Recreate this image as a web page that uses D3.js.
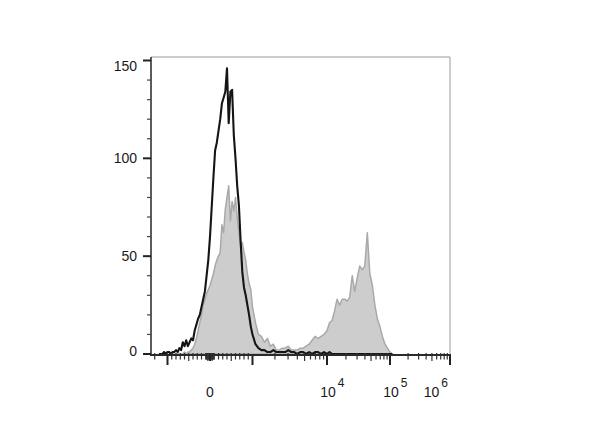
<!DOCTYPE html>
<html>
<head>
<meta charset="utf-8">
<script src="https://cdn.jsdelivr.net/npm/d3@7"></script>
<style>
  html, body { margin: 0; padding: 0; background: #fff; }
  svg { display: block; font-family: 'Liberation Sans', Arial, sans-serif; }
</style>
</head>
<body>
<div id="chart"></div>
<script>
// histogram bins are uniform in biexponential display units
const channelStart = -1.2;
const channelStep = 0.04;

const isotypeCounts = [
  0, 0, 0, 1, 0, 1, 1, 0, 1,
  1, 2, 1, 3, 2, 6, 4, 7, 4, 6,
  8, 7, 12, 15, 18, 20, 24, 28, 32, 40,
  48, 60, 75, 90, 104, 108, 114, 120, 128, 131,
  134, 146, 118, 134, 135, 112, 100, 86, 76, 58,
  42, 34, 30, 25, 20, 14, 10, 5, 3, 2,
  2, 1, 1, 2, 1, 1, 1, 1, 2, 1,
  1, 0, 1, 1, 0, 1, 0, 1, 1, 0,
  1, 0, 1, 0, 0, 0, 0, 0, 0, 0,
  0, 0, 0, 0, 0, 0, 0, 0, 0, 0,
  0, 0, 0, 0, 0, 0, 0, 0
];

const stainedCounts = [
  0, 0, 0, 0, 0, 0, 0, 0, 0,
  0, 0, 0, 0, 0, 0, 1, 0, 1, 1,
  2, 3, 5, 8, 12, 16, 20, 25, 28, 31,
  33, 35, 38, 41, 45, 48, 50, 52, 66, 62,
  74, 80, 86, 68, 78, 73, 80, 70, 62, 55,
  57, 52, 48, 41, 36, 33, 24, 16, 10, 9,
  6, 8, 4, 5, 2, 2, 3, 3, 4, 2,
  2, 2, 3, 3, 4, 5, 7, 9, 8, 9,
  10, 12, 16, 17, 22, 28, 25, 28, 28, 27,
  29, 40, 32, 39, 45, 43, 45, 62, 41, 35,
  25, 18, 14, 9, 5, 3, 1, 0
];

const yTickValues = [0, 50, 100, 150];
const xMajorTicks = [-1000, 1000, 1e4, 1e5, 1e6];
const xLabelValues = [0, 1e4, 1e5, 1e6];
const xLabelBases = ['0', '10', '10', '10'];
const xLabelExps = ['', '4', '5', '6'];

const WIDTH = 600;
const HEIGHT = 448;
const LEFT = 151;
const RIGHT = 450;
const TOP = 57;
const BOTTOM = 355;

// linear around zero, log10 above 1000
const biex = (v) =>
  Math.abs(v) <= 1000
    ? v / 1000
    : Math.sign(v) * (1 + Math.log10(Math.abs(v) / 1000));

const xScale = d3
  .scaleLinear()
  .domain([-1, 0, 1, 2, 3, 4])
  .range([167.5, 210, 252.5, 327, 390, 450]);
const x = (v) => xScale(biex(v));

const yScale = d3.scaleLinear().domain([0, 150]).range([354, 60.5]);

const toPoints = (counts) =>
  counts.map((count, i) => ({ f: channelStart + i * channelStep, count }));

const svg = d3
  .select('#chart')
  .append('svg')
  .attr('width', WIDTH)
  .attr('height', HEIGHT);

svg
  .append('clipPath')
  .attr('id', 'plot-clip')
  .append('rect')
  .attr('x', LEFT)
  .attr('y', TOP)
  .attr('width', RIGHT - LEFT)
  .attr('height', BOTTOM - TOP);

const plot = svg.append('g').attr('clip-path', 'url(#plot-clip)');

const area = d3
  .area()
  .x((d) => xScale(d.f))
  .y0(yScale(0))
  .y1((d) => yScale(d.count));

const line = d3
  .line()
  .x((d) => xScale(d.f))
  .y((d) => yScale(d.count));

plot
  .append('path')
  .datum(toPoints(stainedCounts))
  .attr('d', area)
  .attr('fill', '#cdcdcd')
  .attr('stroke', '#a9a9a9')
  .attr('stroke-width', 1.5)
  .attr('stroke-linejoin', 'round');

plot
  .append('path')
  .datum(toPoints(isotypeCounts))
  .attr('d', line)
  .attr('fill', 'none')
  .attr('stroke', '#151515')
  .attr('stroke-width', 2.1)
  .attr('stroke-linejoin', 'round');

// frame
svg
  .append('path')
  .attr('d', `M${LEFT},${TOP}H${RIGHT}V${BOTTOM}`)
  .attr('fill', 'none')
  .attr('stroke', '#9a9a9a')
  .attr('stroke-width', 1);

// y axis
const yAxis = svg.append('g');
yAxis
  .append('line')
  .attr('x1', LEFT)
  .attr('x2', LEFT)
  .attr('y1', TOP)
  .attr('y2', BOTTOM)
  .attr('stroke', '#333')
  .attr('stroke-width', 1.6);

yAxis
  .selectAll('.minor')
  .data(d3.range(10, 151, 10).filter((v) => v % 50 !== 0))
  .join('line')
  .attr('class', 'minor')
  .attr('x1', LEFT - 4)
  .attr('x2', LEFT)
  .attr('y1', (d) => yScale(d))
  .attr('y2', (d) => yScale(d))
  .attr('stroke', '#444')
  .attr('stroke-width', 1.2);

yAxis
  .selectAll('.major')
  .data(yTickValues)
  .join('line')
  .attr('class', 'major')
  .attr('x1', LEFT - 8)
  .attr('x2', LEFT)
  .attr('y1', (d) => yScale(d))
  .attr('y2', (d) => yScale(d))
  .attr('stroke', '#222')
  .attr('stroke-width', 2);

yAxis
  .selectAll('text')
  .data(yTickValues)
  .join('text')
  .attr('x', LEFT - 14)
  .attr('y', (d) => Math.min(Math.max(yScale(d), 66), 351))
  .attr('dy', '0.36em')
  .attr('text-anchor', 'end')
  .attr('font-size', 14)
  .attr('fill', '#1a1a1a')
  .text((d) => d);

// x axis
const xAxis = svg.append('g');

const nearZero = d3.range(-90, 91, 10).filter((v) => v !== 0);
const linearPart = d3.range(100, 1000, 100).flatMap((v) => [-v, v]);
const logPart = [1e3, 1e4, 1e5].flatMap((d) =>
  d3.range(2, 10).map((k) => k * d)
);
const xMinorTicks = [...nearZero, ...linearPart, -2000, ...logPart];

xAxis
  .selectAll('.minor')
  .data(xMinorTicks)
  .join('line')
  .attr('class', 'minor')
  .attr('x1', (d) => x(d))
  .attr('x2', (d) => x(d))
  .attr('y1', BOTTOM - 2)
  .attr('y2', (d) => {
    const lead = Math.abs(d) / 10 ** Math.floor(Math.log10(Math.abs(d)));
    return BOTTOM + (lead === 5 ? 6 : 4.5);
  })
  .attr('stroke', '#333')
  .attr('stroke-width', 1.2);

xAxis
  .selectAll('.major')
  .data([0, ...xMajorTicks])
  .join('line')
  .attr('class', 'major')
  .attr('x1', (d) => x(d))
  .attr('x2', (d) => x(d))
  .attr('y1', BOTTOM - 1)
  .attr('y2', (d) => (d === 0 ? BOTTOM + 6 : BOTTOM + 10))
  .attr('stroke', '#222')
  .attr('stroke-width', 2);

xAxis
  .append('line')
  .attr('x1', LEFT - 1)
  .attr('x2', RIGHT + 1)
  .attr('y1', BOTTOM)
  .attr('y2', BOTTOM)
  .attr('stroke', '#2a2a2a')
  .attr('stroke-width', 2.2);

const labels = xAxis
  .selectAll('text')
  .data(xLabelValues)
  .join('text')
  .attr('x', (d) => x(d) + (d === 0 ? 0 : 1))
  .attr('y', 397)
  .attr('font-size', 14)
  .attr('fill', '#1a1a1a');

labels
  .append('tspan')
  .text((d, i) => xLabelBases[i]);
labels
  .filter((d, i) => xLabelExps[i] !== '')
  .append('tspan')
  .attr('dx', 2)
  .attr('dy', -10)
  .attr('font-size', 12)
  .text((d) => xLabelExps[xLabelValues.indexOf(d)]);

// centre the "10" on the tick, keep the label inside the axis
labels.each(function (d, i) {
  const label = d3.select(this);
  const base = this.firstChild.getComputedTextLength();
  let left = +label.attr('x') - base / 2;
  const right = left + this.getComputedTextLength() + 2;
  if (right > RIGHT - 2) left -= right - (RIGHT - 2);
  label.attr('x', left);
});
</script>
</body>
</html>
